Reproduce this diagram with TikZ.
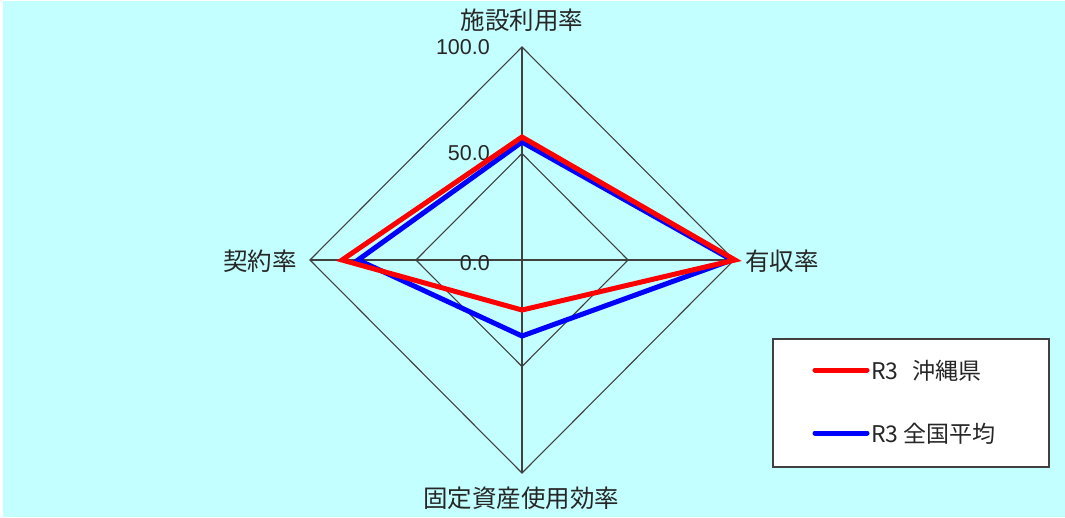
\documentclass[tikz,border=0pt]{standalone}
\usepackage{fontspec}
\setmainfont{Liberation Sans}
\newfontfamily\jp{Noto Sans CJK JP}
\definecolor{bgc}{RGB}{196,255,255}
\definecolor{gridc}{RGB}{64,64,64}
\begin{document}
\begin{tikzpicture}[x=1pt,y=-1pt,
  grid/.style={draw=gridc,line width=1.1pt},
  series/.style={line width=5pt,line join=miter},
  axislabel/.style={font=\jp\fontsize{24.5}{26}\selectfont,inner sep=0pt,text=black!85},
  ticklabel/.style={font=\fontsize{21.5}{23}\selectfont,inner sep=0pt,anchor=east,text=black!85},
  legendtext/.style={font=\jp\fontsize{23}{25}\selectfont,inner sep=0pt,anchor=west,text=black!85}]
\useasboundingbox (0,0) rectangle (1065,517);
\fill[white] (0,0) rectangle (1065,517);
\fill[bgc] (3,1) rectangle (1065,517);
% axis points
\coordinate (C) at (522,260);
\coordinate (T) at (522,47);
\coordinate (R) at (734,260);
\coordinate (B) at (522,473);
\coordinate (L) at (310,260);
\coordinate (T5) at (522,153.5);
\coordinate (R5) at (628,260);
\coordinate (B5) at (522,366.5);
\coordinate (L5) at (416,260);
% grid
\draw[grid] (T) -- (R) -- (B) -- (L) -- cycle;
\draw[grid] (T5) -- (R5) -- (B5) -- (L5) -- cycle;
\draw[grid] (T) -- (B);
\draw[grid] (L) -- (R);
% tick labels
\node[ticklabel] (t100) at (490,47) {100.0};
\node[ticklabel] (t50) at (490,153) {50.0};
\node[ticklabel] (t0) at (490,263) {0.0};
% axis labels
\node[axislabel] (la) at (522,20) {施設利用率};
\node[axislabel] (lb) at (782,261) {有収率};
\node[axislabel] (lc) at (521,498) {固定資産使用効率};
\node[axislabel] (ld) at (260,261) {契約率};
% series
\coordinate (bT) at (522,142);
\coordinate (bR) at (732,260);
\coordinate (bB) at (522,336);
\coordinate (bL) at (358,260);
\coordinate (rT) at (522,137);
\coordinate (rR) at (735,260);
\coordinate (rB) at (522,310);
\coordinate (rL) at (342,260);
\draw[series,blue] (bT) -- (bR) -- (bB) -- (bL) -- cycle;
\draw[series,red] (rT) -- (rR) -- (rB) -- (rL) -- cycle;
% legend
\node[draw=gridc,line width=1.5pt,fill=white,minimum width=276pt,minimum height=128pt,inner sep=0pt,anchor=north west] (leg) at (772,338) {};
\coordinate (ra) at (815,370);
\coordinate (rb) at (867,370);
\coordinate (ba) at (815,433);
\coordinate (bb) at (867,433);
\draw[red,line width=5pt,line cap=round] (ra) -- (rb);
\draw[blue,line width=5pt,line cap=round] (ba) -- (bb);
\node[legendtext] (lr) at (871,371) {R3\hspace{0.6em}沖縄県};
\node[legendtext] (lbl) at (871,434) {R3 全国平均};
\end{tikzpicture}
\end{document}
